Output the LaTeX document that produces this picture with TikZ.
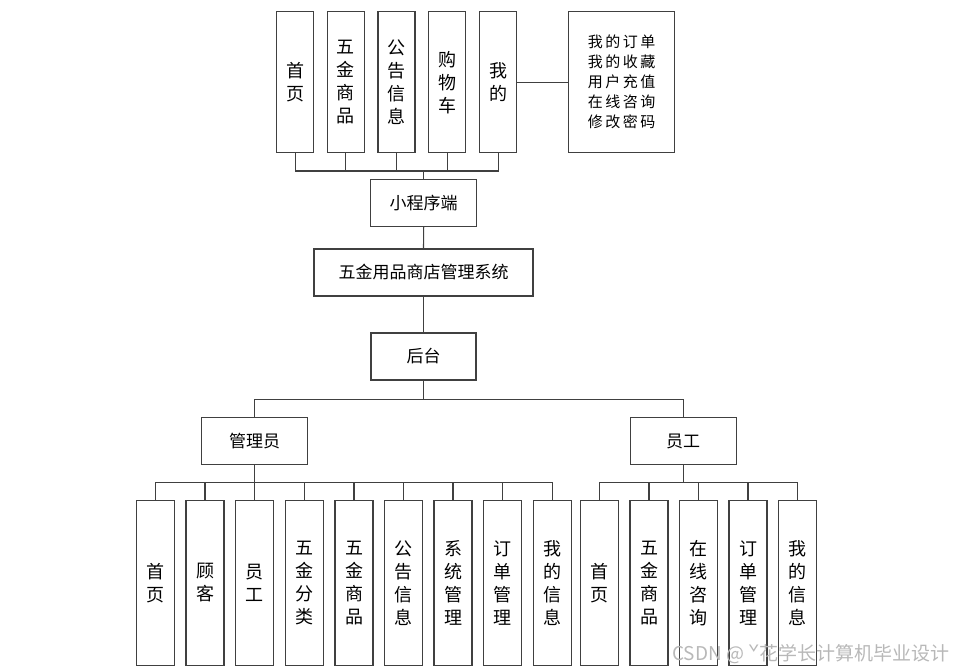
\documentclass[tikz,border=0pt]{standalone}
\usepackage{fontspec}
\setmainfont{Noto Sans CJK SC}
\begin{document}
\begin{tikzpicture}[x=1pt,y=-1pt,
  box/.style={draw=black!75,line width=1.1pt,inner sep=0pt,outer sep=0pt,align=center,text=black},
  vbox/.style={box,minimum width=37pt,minimum height=141.3pt,font=\fontsize{18}{23}\selectfont},
  lbox/.style={box,minimum width=38pt,minimum height=164.7pt,font=\fontsize{18}{23}\selectfont},
  hbox/.style={box,minimum height=47pt,font=\fontsize{17}{20}\selectfont},
  link/.style={draw=black!75,line width=1.1pt}]
\useasboundingbox (0,0) rectangle (956,671);
% top
\node[vbox] (t1) at (295.2,82.3) {首\\页};
\node[vbox] (t2) at (345.7,82.3) {五\\金\\商\\品};
\node[vbox] (t3) at (396.5,82.3) {公\\告\\信\\息};
\node[vbox] (t4) at (447.3,82.3) {购\\物\\车};
\node[vbox] (t5) at (498.2,82.3) {我\\的};
\node[box,minimum width=106pt,minimum height=141.3pt,font=\fontsize{15}{20}\selectfont] (mine) at (621.7,82.3)
  {我\,的\,订\,单\\我\,的\,收\,藏\\用\,户\,充\,值\\在\,线\,咨\,询\\修\,改\,密\,码};
\draw[link] (t5.east) -- (mine.west);
\node[hbox,minimum width=106pt] (prog) at (423.7,203.3) {小程序端};
\coordinate (topbus) at (0,171);
\foreach \n in {t1,t2,t3,t4,t5} \draw[link] (\n.south) -- (\n.south |- topbus) -| (prog.north);
\node[hbox,minimum width=219pt] (sys) at (423.5,272.5) {五金用品商店管理系统};
\node[hbox,minimum width=105pt] (back) at (423.5,356.5) {后台};
\draw[link] (prog.south) -- (sys.north);
\draw[link] (sys.south) -- (back.north);
\node[hbox,minimum width=106.4pt,minimum height=46.6pt] (admin) at (254.5,441) {管理员};
\node[hbox,minimum width=106.3pt,minimum height=46.6pt] (staff) at (683.2,441) {员工};
\coordinate (midbus) at (0,399.7);
\draw[link] (back.south) -- (back.south |- midbus) -| (admin.north);
\draw[link] (back.south |- midbus) -| (staff.north);
% admin children
\coordinate (lowbus) at (0,482.3);
\node[lbox] (a1) at (155.7,582.7) {首\\页};
\node[lbox] (a2) at (205,582.7) {顾\\客};
\node[lbox] (a3) at (254.7,582.7) {员\\工};
\node[lbox] (a4) at (304.3,582.7) {五\\金\\分\\类};
\node[lbox] (a5) at (354,582.7) {五\\金\\商\\品};
\node[lbox] (a6) at (403.3,582.7) {公\\告\\信\\息};
\node[lbox] (a7) at (453,582.7) {系\\统\\管\\理};
\node[lbox] (a8) at (502.7,582.7) {订\\单\\管\\理};
\node[lbox] (a9) at (552.3,582.7) {我\\的\\信\\息};
\foreach \n in {a1,a2,a3,a4,a5,a6,a7,a8,a9} \draw[link] (admin.south) -- (admin.south |- lowbus) -| (\n.north);
\node[lbox] (s1) at (599.3,582.7) {首\\页};
\node[lbox] (s2) at (649,582.7) {五\\金\\商\\品};
\node[lbox] (s3) at (698.3,582.7) {在\\线\\咨\\询};
\node[lbox] (s4) at (748,582.7) {订\\单\\管\\理};
\node[lbox] (s5) at (797.7,582.7) {我\\的\\信\\息};
\foreach \n in {s1,s2,s3,s4,s5} \draw[link] (staff.south) -- (staff.south |- lowbus) -| (\n.north);
% watermark
\node[anchor=east,text=black!28,font=\fontsize{19}{21}\selectfont,inner sep=0pt] (wm) at (950,654) {CSDN @ ˇ花学长计算机毕业设计};
\end{tikzpicture}
\end{document}
